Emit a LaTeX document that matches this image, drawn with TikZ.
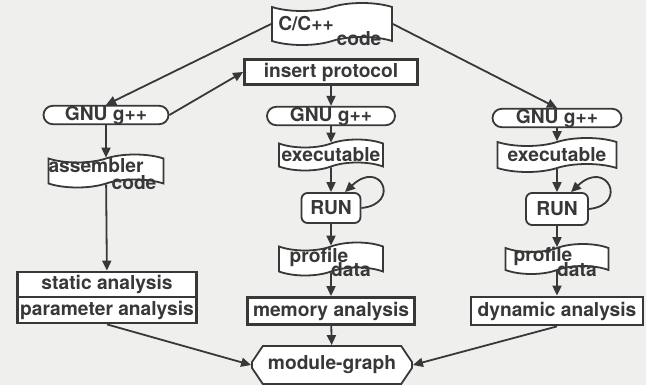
\documentclass[tikz,border=0pt]{standalone}
\usepackage{fontspec}
\setmainfont{TeX Gyre Heros}
\usetikzlibrary{shapes.symbols,shapes.misc,arrows.meta,calc}
\definecolor{ink}{HTML}{383838}
\definecolor{paper}{HTML}{EFEFED}

\tikzset{
  every node/.style={font=\fontsize{9.6}{11}\selectfont\bfseries, text=ink, inner sep=0pt},
  base/.style={draw=ink, fill=white, line width=0.9pt},
  docbox/.style={base, tape, tape bend height=4pt},
  pill/.style={base, rounded rectangle, minimum height=8pt},
  runbox/.style={base, rounded corners=3pt},
  thickbox/.style={base, line width=1.4pt},
  graphbox/.style={base, chamfered rectangle, chamfered rectangle angle=34, chamfered rectangle xsep=9pt},
  flow/.style={draw=ink, line width=0.9pt, -{Triangle[length=5pt,width=4.5pt]}}
}

\begin{document}
\begin{tikzpicture}[x=0.5pt,y=-0.5pt]

    \useasboundingbox (0,0) rectangle (646,385);
    \fill[paper] (0,0) rectangle (646,385);

    % source
    \node[docbox, minimum width=60pt, minimum height=21pt] (code) at (332,24) {};
    \node (codea) at ($(code)+(-26,0)$) {C/C++};
    \node (codeb) at ($(code)+(27,15)$) {code};

    \node[thickbox, minimum width=86.5pt, minimum height=12.5pt] (insert) at (331,72) {insert protocol};

    % compilers
    \node[pill, minimum width=62.5pt] (gnu1) at (106,115) {GNU g++};
    \node[pill, minimum width=64pt] (gnu2) at (331,116) {GNU g++};
    \node[pill, minimum width=64.5pt] (gnu3) at (557,118) {GNU g++};

    % left column
    \node[docbox, minimum width=57.5pt, minimum height=16.5pt] (asm) at (106,171) {};
    \node (asma) at ($(asm)+(-10,-5)$) {assembler};
    \node (asmb) at ($(asm)+(28,12)$) {code};
    \node[thickbox, minimum width=89.5pt, minimum height=12.5pt] (static) at (107,284.5) {static analysis};
    \node[thickbox, minimum width=89.5pt, minimum height=13pt] (param) at (107,310) {parameter analysis};

    % middle column
    \node[docbox, minimum width=52pt, minimum height=15.5pt] (exec1) at (331,155) {executable};
    \node[runbox, minimum width=29.5pt, minimum height=15pt] (run1) at (331,208) {RUN};
    \node[docbox, minimum width=52pt, minimum height=16.5pt] (prof1) at (331,259) {};
    \node (prof1a) at ($(prof1)+(-12,-2)$) {profile};
    \node (prof1b) at ($(prof1)+(20,11)$) {data};
    \node[thickbox, minimum width=83.5pt, minimum height=13.5pt] (memory) at (331,311) {memory analysis};

    % right column
    \node[docbox, minimum width=59.5pt, minimum height=17pt] (exec2) at (557,155) {executable};
    \node[runbox, minimum width=31pt, minimum height=16pt] (run2) at (557,209) {RUN};
    \node[docbox, minimum width=51.5pt, minimum height=15pt] (prof2) at (557,259) {};
    \node (prof2a) at ($(prof2)+(-14,-3)$) {profile};
    \node (prof2b) at ($(prof2)+(20,11)$) {data};
    \node[thickbox, minimum width=86pt, minimum height=14pt] (dynamic) at (557,311) {dynamic analysis};

    \node[graphbox, minimum width=80pt, minimum height=19pt] (graph) at (332,365) {module-graph};

    % connectors
    \draw[flow] (code.west) -- (gnu1.north);
    \draw[flow] (code.east) -- (gnu3.north);
    \draw[flow] (gnu1.east) -- (insert.west);
    \draw[flow] (insert) -- (gnu2);
    \draw[flow] (gnu1) -- (asm);
    \draw[flow] (asm) -- (static);
    \draw[flow] (gnu2) -- (exec1);
    \draw[flow] (exec1) -- (run1);
    \draw[flow] (run1) -- (prof1);
    \draw[flow] (prof1) -- (memory);
    \draw[flow] (gnu3) -- (exec2);
    \draw[flow] (exec2) -- (run2);
    \draw[flow] (run2) -- (prof2);
    \draw[flow] (prof2) -- (dynamic);
    \draw[flow] (param.south) -- (graph.west);
    \draw[flow] (memory) -- (graph);
    \draw[flow] (dynamic.south) -- (graph.east);

    % repeated runs
    \draw[flow] (run1.east) .. controls +(40,-4) and +(36,-34) .. ($(run1.north)+(14,0)$);
    \draw[flow] (run2.east) .. controls +(40,-4) and +(36,-34) .. ($(run2.north)+(14,0)$);
\end{tikzpicture}
\end{document}
